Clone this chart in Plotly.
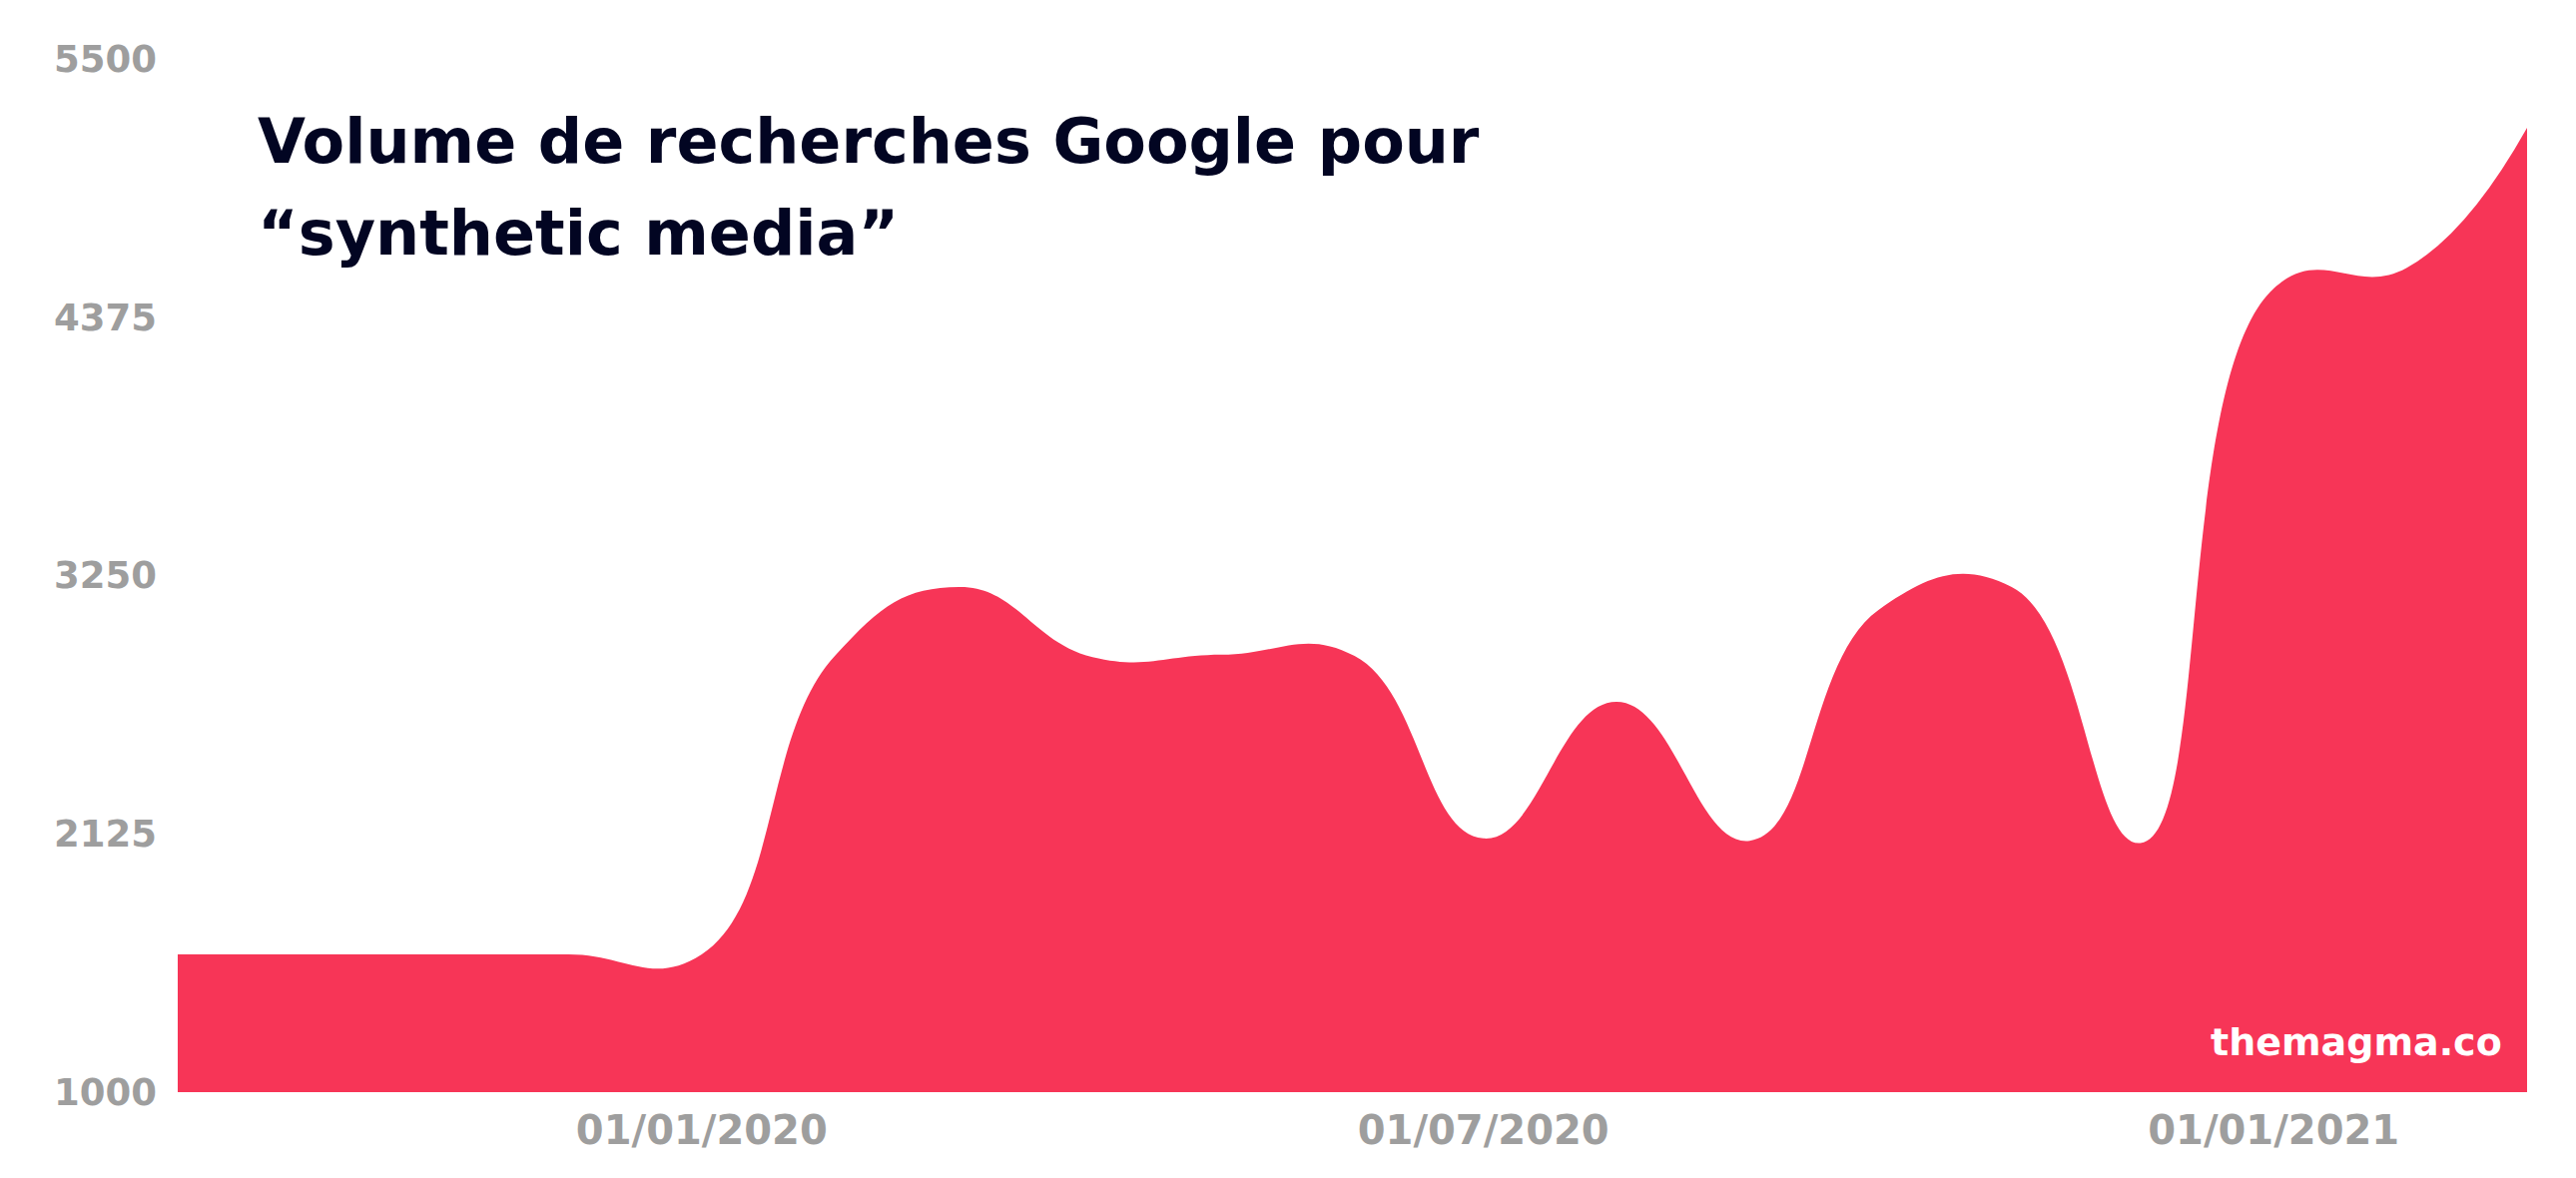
import plotly.graph_objects as go

# ---- data ----
dates = ["2019-09-01", "2019-10-01", "2019-11-01", "2019-12-01", "2020-01-01",
         "2020-02-01", "2020-03-01", "2020-04-01", "2020-05-01", "2020-06-01",
         "2020-07-01", "2020-08-01", "2020-09-01", "2020-10-01", "2020-11-01",
         "2020-12-01", "2021-01-01", "2021-02-01", "2021-03-01"]
volume = [1600, 1600, 1600, 1600, 1600,
          2900, 3200, 2895, 2905, 2900,
          2105, 2700, 2095, 3100, 3200,
          2085, 4500, 4590, 5200]

y_ticks = [1000, 2125, 3250, 4375, 5500]
x_ticks = ["2020-01-01", "2020-07-01", "2021-01-01"]
x_tick_labels = ["01/01/2020", "01/07/2020", "01/01/2021"]

title_line1 = "Volume de recherches Google pour"
title_line2 = "\u201csynthetic media\u201d"
watermark = "themagma.co"

RED = "#F73557"
GREY = "#9E9E9E"
NAVY = "#020522"
FONT = "DejaVu Sans"

W, H = 2580, 1180
ML, MR, MT, MB = 178, 49, 59, 86

fig = go.Figure()
fig.add_trace(go.Scatter(
    x=dates, y=volume,
    mode="lines",
    line=dict(color=RED, width=0, shape="spline", smoothing=1.3),
    fill="tozeroy",
    fillcolor=RED,
    hoverinfo="skip",
))

fig.update_layout(
    width=W, height=H,
    margin=dict(l=ML, r=MR, t=MT, b=MB, pad=0),
    paper_bgcolor="white",
    plot_bgcolor="white",
    showlegend=False,
    font=dict(family=FONT),
    xaxis=dict(
        type="date",
        range=["2019-09-01", "2021-03-01"],
        tickvals=x_ticks,
        ticktext=x_tick_labels,
        showgrid=False, zeroline=False, showline=False,
        ticks="",
        ticklabelstandoff=11,
        tickfont=dict(family=FONT, size=40, color=GREY, weight="bold"),
        fixedrange=True,
    ),
    yaxis=dict(
        range=[1000, 5500],
        tickvals=y_ticks,
        ticktext=[str(v) for v in y_ticks],
        showgrid=False, zeroline=False, showline=False,
        ticks="",
        ticklabelstandoff=20,
        tickfont=dict(family=FONT, size=37, color=GREY, weight="bold"),
        fixedrange=True,
    ),
    annotations=[
        dict(text=title_line1, xref="paper", yref="paper",
             x=(256 - ML) / (W - ML - MR), y=(1094 - 141.5) / 1035,
             xanchor="left", yanchor="middle", showarrow=False,
             font=dict(family=FONT, size=62, color=NAVY, weight="bold")),
        dict(text=title_line2, xref="paper", yref="paper",
             x=(256 - ML) / (W - ML - MR), y=(1094 - 233.5) / 1035,
             xanchor="left", yanchor="middle", showarrow=False,
             font=dict(family=FONT, size=62, color=NAVY, weight="bold")),
        dict(text=watermark, xref="paper", yref="paper",
             x=(2508 - ML) / (W - ML - MR), y=(1094 - 1044) / 1035,
             xanchor="right", yanchor="middle", showarrow=False,
             font=dict(family=FONT, size=38, color="white", weight="bold")),
    ],
)

fig.write_html("out.html", config={"displayModeBar": False},
               post_script="document.body.style.margin='0';")
